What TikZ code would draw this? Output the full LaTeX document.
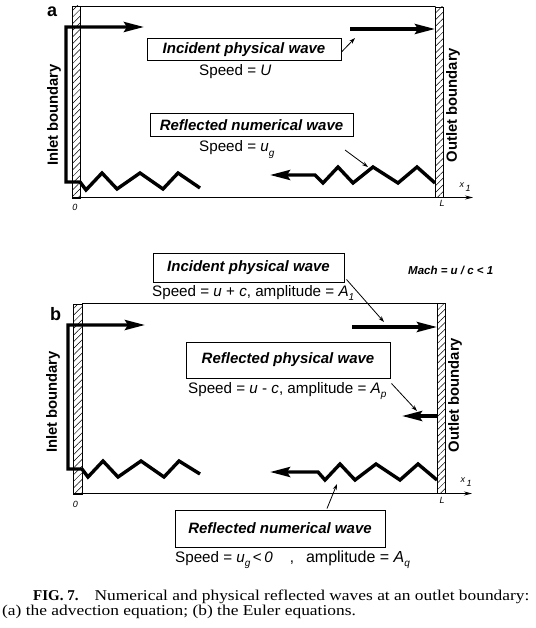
\documentclass[tikz,border=0pt]{standalone}
\usepackage{fontspec}
\setmainfont{Liberation Serif}
\setsansfont{Liberation Sans}
\newfontfamily\capfont[FakeStretch=1.16]{Liberation Serif}
\usetikzlibrary{arrows.meta,patterns.meta}
\tikzset{
  wall/.style={draw,line width=0.7pt,pattern={Lines[angle=45,distance=4.7pt,line width=0.5pt]}},
  frameline/.style={line width=1pt},
  wave/.style={line width=3.4pt,line join=miter},
  bigtip/.style={-{Stealth[length=20pt,width=10pt,inset=3pt]}},
  leader/.style={line width=0.8pt,-{Stealth[length=6pt,width=4pt]}},
  axisline/.style={line width=0.9pt,-{Stealth[length=8pt,width=4pt]}},
  wbox/.style={draw,line width=1pt,inner sep=0pt,font=\sffamily\bfseries\itshape\fontsize{15}{18}\selectfont},
  speed/.style={anchor=base west,inner sep=0pt,font=\sffamily\fontsize{15.2}{18}\selectfont},
  smalllab/.style={inner sep=0pt,font=\sffamily\itshape\fontsize{9}{10}\selectfont},
  bound/.style={rotate=90,inner sep=0pt,font=\sffamily\bfseries\fontsize{14.8}{17}\selectfont},
  panel/.style={anchor=base west,inner sep=0pt,font=\sffamily\bfseries\fontsize{18}{20}\selectfont},
  captext/.style={anchor=base west,inner sep=0pt,font=\fontsize{15}{18}\selectfont},
}
\newcommand{\vsub}[2]{\textit{#1}\raisebox{-0.55ex}{\fontsize{10}{11}\selectfont\textit{#2}}}
\begin{document}
\begin{tikzpicture}[x=1pt,y=-1pt]
\useasboundingbox (0,0) rectangle (535,628);

% ---------------- panel a ----------------
\node[panel] (pa) at (47,17) {a};
\draw[wall] (72,6) rectangle (80,198);
\draw[wall] (435,7) rectangle (443,197);
\draw[frameline] (80,7) -- (435,7);
\draw[axisline] (72,197.5) -- (473,197.5);
\node[smalllab] (a0) at (75,207.5) {0};
\node[smalllab] (aL) at (442,203.5) {L};
\node[smalllab] (ax1) at (465,187) {x\raisebox{-0.7ex}{\,1}};

\node[bound] (inla) at (54,115) {Inlet boundary};
\node[bound] (outa) at (453,105) {Outlet boundary};

\draw[wave,bigtip] (200,188) -- (178,173) -- (163,189) -- (140,173) -- (117,189) -- (102,173) -- (86,190) -- (80,182) -- (66,182) -- (66,27) -- (144,27);
\draw[wave,bigtip] (350,29) -- (435,29);
\draw[wave,bigtip] (435,183) -- (417,167) -- (398,183) -- (373,167) -- (353,183) -- (338,167) -- (323,183) -- (315,175) -- (270,175);

\node[wbox,minimum width=194pt,minimum height=22pt] (inca) at (244,50) {Incident physical wave};
\node[speed] (spa) at (199,76) {Speed = \textit{U}};
\node[wbox,minimum width=203pt,minimum height=23pt] (rna) at (251.5,125) {Reflected numerical wave};
\node[speed] (spb) at (199,152) {Speed = \vsub{u}{g}};

\coordinate (la1) at (355,38);
\draw[leader] ([yshift=-2pt]inca.east) -- (la1);
\coordinate (la2s) at (345,150);
\coordinate (la2e) at (368,167);
\draw[leader] (la2s) -- (la2e);

% ---------------- panel b ----------------
\node[panel] (pb) at (50,320) {b};
\node[anchor=base west,inner sep=0pt,font=\sffamily\bfseries\itshape\fontsize{11.5}{13}\selectfont] (mach) at (408,274) {Mach = u / c < 1};

\draw[wall] (73,304) rectangle (82,494);
\draw[wall] (437,303) rectangle (445,493);
\draw[frameline] (82,303.5) -- (437,303.5);
\draw[axisline] (73,493.5) -- (472,493.5);
\node[smalllab] (b0) at (75.5,504.5) {0};
\node[smalllab] (bL) at (442,500.5) {L};
\node[smalllab] (bx1) at (466,482) {x\raisebox{-0.7ex}{\,1}};

\node[bound] (inlb) at (53,402) {Inlet boundary};
\node[bound] (outb) at (455,395) {Outlet boundary};

\draw[wave,bigtip] (200,474) -- (179,461) -- (164,477) -- (141,461) -- (118,477) -- (103,461) -- (88,477) -- (82,469) -- (68,469) -- (68,325) -- (145,325);
\draw[wave,bigtip] (352,327) -- (437,327);
\draw[wave,bigtip] (437,416) -- (402,416);
\draw[wave,bigtip] (437,480) -- (418,464) -- (400,480) -- (376,464) -- (355,480) -- (340,464) -- (325,480) -- (318,472) -- (270,472);

\node[wbox,minimum width=191pt,minimum height=29pt] (incb) at (248.5,267.5) {Incident physical wave};
\node[speed] (spc) at (152,296) {Speed = \textit{u} + \textit{c}, amplitude = \vsub{A}{1}};
\node[wbox,minimum width=204pt,minimum height=36pt] (rpb) at (288,360) {Reflected physical wave};
\node[speed] (spd) at (188,393) {Speed = \textit{u} - \textit{c}, amplitude = \vsub{A}{p}};
\node[wbox,minimum width=210pt,minimum height=37pt] (rnb) at (280,528.5) {Reflected numerical wave};
\node[speed] (spe) at (175,562) {Speed = \vsub{u}{g}\hspace{2.5pt}<\hspace{2.5pt}\textit{0}\hspace{17pt},\hspace{12pt}{\fontsize{16}{18}\selectfont amplitude = \vsub{A}{q}}};

\coordinate (lb1) at (384,322);
\draw[leader] ([xshift=2pt,yshift=3pt]incb.south east) -- (lb1);
\coordinate (lb2) at (417,411);
\draw[leader] ([xshift=1pt,yshift=-5pt]rpb.south east) -- (lb2);
\coordinate (lb3) at (337,484);
\draw[leader] ([xshift=47pt,yshift=1pt]rnb.north) -- (lb3);

% ---------------- caption ----------------
\node[captext] (cap1) at (33,600) {\textbf{FIG. 7.}\hspace{16pt}{\capfont Numerical and physical reflected waves at an outlet boundary:}};
\node[captext] (cap2) at (2,615) {\capfont (a) the advection equation; (b) the Euler equations.};
\end{tikzpicture}
\end{document}
